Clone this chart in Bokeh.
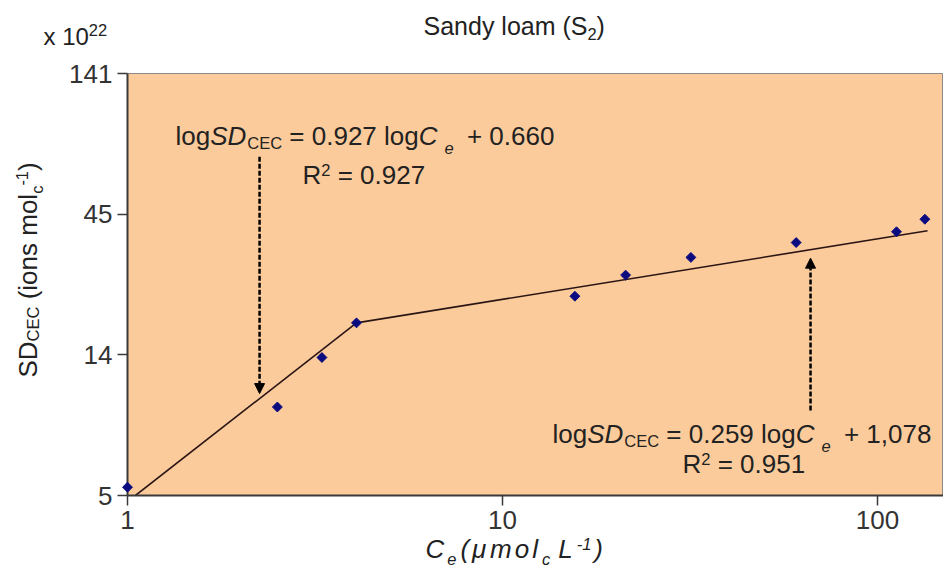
import math
from bokeh.plotting import figure
from bokeh.models import Arrow, NormalHead, FixedTicker, Range1d
from bokeh.core.properties import value
from bokeh.embed import file_html
from bokeh.resources import INLINE

# ---------------- data ----------------
ce = [1.0, 2.51, 3.30, 4.08, 15.6, 21.3, 31.8, 60.7, 112.4, 133.8]
sd = [5.34, 10.07, 14.9, 19.6, 24.2, 28.6, 32.9, 37.0, 40.3, 44.5]
fit1_ce = [1.05, 4.08]
fit1_sd = [5.0, 19.6]
fit2_ce = [4.08, 136.0]
fit2_sd = [19.6, 40.6]
x_ticks = [1, 10, 100]
x_tick_labels = ["1", "10", "100"]
y_ticks = [5, 15.22, 46.31, 141]
y_tick_labels = ["5", "14", "45", "141"]
arrow1_ce = 2.25
arrow1_sd = [73.0, 11.2]
arrow2_ce = 66.3
arrow2_sd = [9.8, 32.7]

FONT = "Liberation Sans"
BG = "#FCCB9B"

W, H = 943, 568
FL, FT, FB, FR = 127, 73, 495, 943  # frame edges in page pixels
X0, X1, Y0, Y1 = 1, 150, 5, 141

p = figure(width=W, height=H, x_axis_type="log", y_axis_type="log",
           x_range=Range1d(X0, X1), y_range=Range1d(Y0, Y1),
           output_backend="svg", toolbar_location=None,
           min_border_left=FL, min_border_right=W - FR, min_border_top=FT,
           min_border_bottom=H - FB)
p.background_fill_color = BG
p.border_fill_color = "white"
p.outline_line_color = "#8a8a8a"
p.outline_line_width = 1
p.xgrid.visible = False
p.ygrid.visible = False

for ax in (p.xaxis[0], p.yaxis[0]):
    ax.axis_line_color = "#3a3a3a"
    ax.axis_line_width = 2
    ax.major_tick_line_color = "#3a3a3a"
    ax.major_tick_line_width = 1.5
    ax.major_tick_out = 10
    ax.major_tick_in = 0
    ax.minor_tick_out = 0
    ax.minor_tick_in = 0
    ax.major_label_text_font = FONT
    ax.major_label_text_font_size = "26px"
    ax.major_label_text_color = "#333333"
    ax.major_label_standoff = 5

p.xaxis.ticker = FixedTicker(ticks=x_ticks, minor_ticks=[])
p.yaxis.ticker = FixedTicker(ticks=y_ticks, minor_ticks=[])
p.xaxis.major_label_overrides = {t: l for t, l in zip(x_ticks, x_tick_labels)}
p.yaxis.major_label_overrides = {t: l for t, l in zip(y_ticks, y_tick_labels)}

# fitted lines
p.line(fit1_ce, fit1_sd, line_color="#2a1515", line_width=1.6)
p.line(fit2_ce, fit2_sd, line_color="#2a1515", line_width=1.6)
# data points (drawn above the axes, like the reference)
p.scatter(ce, sd, marker="square", angle=math.pi / 4, size=7,
          fill_color="#0b0b80", line_color="#0b0b80", level="overlay")

# arrows
for xa, ys in ((arrow1_ce, arrow1_sd), (arrow2_ce, arrow2_sd)):
    p.add_layout(Arrow(x_start=xa, y_start=ys[0], x_end=xa, y_end=ys[1],
                       line_color="black", line_width=2.5, line_dash="5 2",
                       end=NormalHead(size=10, fill_color="black", line_color="black")))

# ---------------- text helpers ----------------
AW = {' ': 278, '(': 333, ')': 333, '+': 584, ',': 278, '-': 333, '.': 278,
      '=': 584, 'C': 722, 'D': 722, 'E': 667, 'L': 556, 'R': 722, 'S': 667,
      'a': 556, 'c': 500, 'd': 556, 'e': 556, 'g': 556, 'i': 222, 'l': 222,
      'm': 833, 'n': 556, 'o': 556, 's': 500, 'x': 500, 'y': 500, 'μ': 576}
K = 0.36  # empirical baseline correction (fraction of font size)


def tw(s, size):
    return sum(AW.get(c, 556) for c in s) / 1000.0 * size


def to_data(X, Y):
    """page pixel -> data coordinates (log scales)"""
    fx = (X - FL) / (FR - FL)
    fy = (FB - Y) / (FB - FT)
    return (X0 * (X1 / X0) ** fx, Y0 * (Y1 / Y0) ** fy)


def put(text, X, Y, size, italic=False, rotated=False, color="#222222"):
    stripped = text.lstrip(" ")
    lead = tw(text[:len(text) - len(stripped)], size)
    if rotated:
        Y -= lead
        X -= K * size
    else:
        X += lead
        Y -= K * size
    xd, yd = to_data(X, Y)
    p.text(x=[xd], y=[yd], text=[stripped], text_font=value(FONT),
           text_font_size=value(f"{size}px"),
           text_font_style="italic" if italic else "normal",
           text_color=color, text_align="left", text_baseline="alphabetic",
           angle=math.pi / 2 if rotated else 0.0, level="overlay")


def run(pieces, x, y, rotated=False):
    for text, size, it, dy, extra in pieces:
        if rotated:
            put(text, x + dy, y, size, it, rotated=True)
            y -= tw(text, size) + extra
        else:
            put(text, x, y + dy, size, it)
            x += tw(text, size) + extra


S = 16.5
# title
run([("Sandy loam (S", 25, False, 0, 0), ("2", S, False, 5, 0), (")", 25, False, 0, 0)], 423, 34)
# multiplier
run([("x 10", 24, False, 0, 0), ("22", S, False, -10, 0)], 43, 45)

# equation 1
run([("log", 26, False, 0, 0), ("SD", 26, True, 0, 1), ("CEC", S, False, 3, 0),
     (" = 0.927 log", 26, False, 0, 0), ("C", 26, True, 0, 7), ("e", S, True, 8, 6),
     (" + 0.660", 26, False, 0, 0)], 175, 145)
run([("R", 26, False, 0, 0), ("2", S, False, -9, 0), (" = 0.927", 26, False, 0, 0)], 302, 184)
# equation 2
run([("log", 26, False, 0, 0), ("SD", 26, True, 0, 1), ("CEC", S, False, 3, 0),
     (" = 0.259 log", 26, False, 0, 0), ("C", 26, True, 0, 7), ("e", S, True, 8, 6),
     (" + 1,078", 26, False, 0, 0)], 552, 443)
run([("R", 26, False, 0, 0), ("2", S, False, -9, 0), (" = 0.951", 26, False, 0, 0)], 682, 473)

# x axis title (italic, loosely spaced as in the reference)
run([("C", 26, True, 0, 3), ("e", S, True, 6, 4), ("(", 26, True, 0, 3),
     ("μ", 26, True, 0, 3), ("m", 26, True, 0, 3), ("o", 26, True, 0, 3),
     ("l", 26, True, 0, 4), ("c", S, True, 6, 8), ("L", 26, True, 0, 4),
     ("-1", S, True, -9, 3), (")", 26, True, 0, 0)], 425, 558)
# y axis title (rotated)
run([("SD", 26, False, 0, 0), ("CEC", S, False, 1, 0), (" (ions mol", 26, False, 0, 0),
     ("c", S, False, 5, 0), ("-1", S, False, -10, 0), (")", 26, False, 0, 0)],
    37, 377, rotated=True)

open("out.html", "w").write(file_html(p, INLINE))
